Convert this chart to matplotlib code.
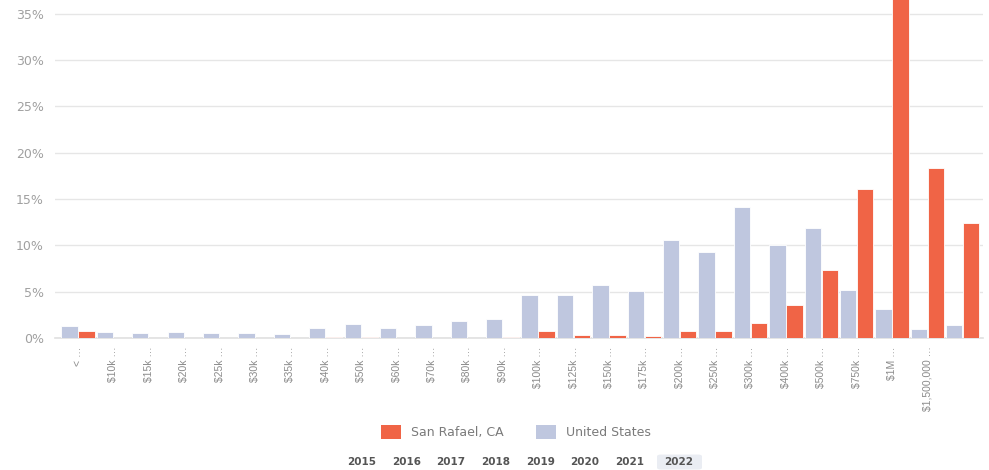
import matplotlib
matplotlib.use("Agg")
import matplotlib.pyplot as plt
from matplotlib.patches import Patch, FancyBboxPatch
import numpy as np

categories = ["< …", "$10k …", "$15k …", "$20k …", "$25k …", "$30k …", "$35k …",
              "$40k …", "$50k …", "$60k …", "$70k …", "$80k …", "$90k …",
              "$100k …", "$125k …", "$150k …", "$175k …", "$200k …", "$250k …",
              "$300k …", "$400k …", "$500k …", "$750k …", "$1M …", "$1,500,000 …", ""]
san_rafael = [0.8, 0, 0, 0, 0, 0, 0, 0.1, 0.1, 0, 0, 0, 0.15,
              0.8, 0.3, 0.35, 0.25, 0.7, 0.7, 1.65, 3.55, 7.35, 16.05, 37.5, 18.4, 12.45]
united_states = [1.3, 0.65, 0.55, 0.65, 0.55, 0.55, 0.45, 1.1, 1.5, 1.1, 1.4, 1.8, 2.0,
                 4.65, 4.6, 5.75, 5.1, 10.6, 9.3, 14.1, 10.0, 11.9, 5.2, 3.15, 1.0, 1.4]
years = ["2015", "2016", "2017", "2018", "2019", "2020", "2021", "2022"]
y_ticks = [0, 5, 10, 15, 20, 25, 30, 35]

SR_COLOR = "#F06446"
US_COLOR = "#BFC7DF"

fig = plt.figure(figsize=(9.89, 4.70), dpi=100)
ax = fig.add_axes([0.0556, 0.2809, 0.938, 0.7191])

x = np.arange(len(categories))
w = 0.46
ax.bar(x - 0.24, united_states, width=w, color=US_COLOR, edgecolor="white", linewidth=0.6, zorder=3)
ax.bar(x + 0.24, san_rafael, width=w, color=SR_COLOR, edgecolor="white", linewidth=0.6, zorder=3)

ax.set_xlim(-0.65, len(categories) - 0.44)
ax.set_ylim(0, 36.5)
ax.set_yticks(y_ticks)
ax.set_yticklabels([f"{t}%" for t in y_ticks], color="#a0a0a0", fontsize=9)
ax.yaxis.grid(True, color="#e6e6e6", linewidth=1, zorder=0)
ax.tick_params(axis="y", length=0, pad=8)
ax.set_xticks(x)
ax.set_xticklabels(categories, rotation=90, fontsize=7.5, color="#8a8a8a",
                   family="Liberation Sans")
ax.tick_params(axis="x", length=0, pad=6)
for s in ["top", "right", "left"]:
    ax.spines[s].set_visible(False)
ax.spines["bottom"].set_color("#e0e0e0")
ax.spines["bottom"].set_linewidth(1.2)

handles = [Patch(facecolor=SR_COLOR, label="San Rafael, CA"),
           Patch(facecolor=US_COLOR, label="United States")]
leg = fig.legend(handles=handles, loc="center", bbox_to_anchor=(0.522, 0.081), ncol=2,
                 frameon=False, fontsize=9, handlelength=1.6, handleheight=1.3,
                 columnspacing=2.6, handletextpad=0.8)
for t in leg.get_texts():
    t.set_color("#7a7a7a")

year_x = [362, 407, 451, 496, 541, 585, 630, 679]
for yr, px in zip(years, year_x):
    if yr == "2022":
        box = FancyBboxPatch(((px - 22) / 989, 0.001), 45 / 989, 15 / 470,
                             boxstyle="round,pad=0,rounding_size=0.004",
                             transform=fig.transFigure, facecolor="#eaedf3",
                             edgecolor="none")
        fig.patches.append(box)
    fig.text(px / 989, 1 - 462 / 470, yr, ha="center", va="center", fontsize=7.5,
             color="#555555", fontweight="bold")

fig.savefig("out.png", dpi=100)
